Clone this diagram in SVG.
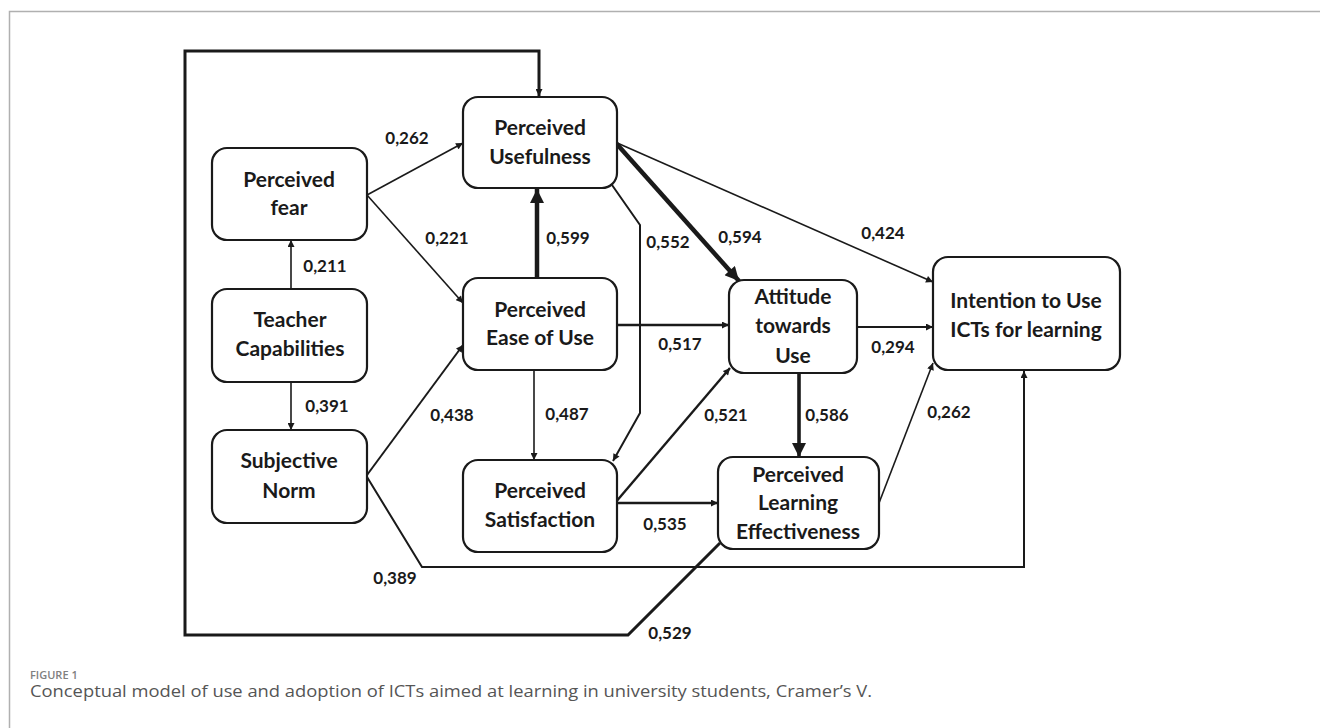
<svg xmlns="http://www.w3.org/2000/svg" width="1320" height="728" viewBox="0 0 1320 728">
<style>
.box{fill:#fff;stroke:#1a1a1a;stroke-width:2.2}
.nt{font-family:Lato,"Open Sans","Liberation Sans",sans-serif;font-size:21px;font-weight:700;fill:#1a1a1a;text-anchor:middle}
.lb{font-family:Lato,"Open Sans","Liberation Sans",sans-serif;font-size:17px;font-weight:700;fill:#1a1a1a;text-anchor:middle}
.e{fill:none;stroke:#1a1a1a;stroke-linejoin:miter}
.t1{stroke-width:1.6;marker-end:url(#a)}
.t2{stroke-width:2.4;marker-end:url(#a)}
.tk{stroke-width:4.5;marker-end:url(#b)}
</style>
<defs>
<marker id="a" viewBox="0 0 10 10" refX="10" refY="5" markerUnits="userSpaceOnUse" markerWidth="8" markerHeight="7" orient="auto"><path d="M0,0 L10,5 L0,10 z" fill="#1a1a1a"/></marker>
<marker id="b" viewBox="0 0 10 10" refX="10" refY="5" markerUnits="userSpaceOnUse" markerWidth="15" markerHeight="14" orient="auto"><path d="M0,0 L10,5 L0,10 z" fill="#1a1a1a"/></marker>
</defs>
<rect width="1320" height="728" fill="#fff"/>
<path d="M9.5,728 L9.5,11.5 L1320,11.5" fill="none" stroke="#b0b0b0" stroke-width="1.5"/>

<g id="connectors">
<path class="e t2" style="stroke-width:3" d="M720,543 L628,635 L185,635 L185,51 L539,51 L539,96"/>
<path class="e t1" d="M367,195 L463,143"/>
<path class="e t1" d="M367,195 L463,303"/>
<path class="e t1" d="M291,289 L291,240"/>
<path class="e t1" d="M291,382 L291,430"/>
<path class="e tk" d="M537,278 L537,189"/>
<path class="e tk" d="M615,142 L739,281"/>
<path class="e t1" d="M615,142 L933,282"/>
<path class="e t2" style="stroke-width:2" d="M612,185 L640,225 L640,413 L613,461"/>
<path class="e t2" d="M617,325 L729,325"/>
<path class="e t2" style="stroke-width:2" d="M857,327 L933,327"/>
<path class="e t2" style="stroke-width:2" d="M367,475 L463,345"/>
<path class="e t1" d="M534,370 L534,460"/>
<path class="e t2" style="stroke-width:2" d="M367,477 L422,567 L1024,567 L1024,371"/>
<path class="e t2" d="M615,503 L730,368"/>
<path class="e t2" d="M615,503 L718,503"/>
<path class="e tk" style="stroke-width:3.6" d="M799,373 L799,457"/>
<path class="e t1" d="M879,503 L933,363"/>
</g>

<g id="labels">
<text class="lb" x="407" y="144">0,262</text>
<text class="lb" x="447" y="244">0,221</text>
<text class="lb" x="568" y="244">0,599</text>
<text class="lb" x="325" y="272">0,211</text>
<text class="lb" x="327" y="412">0,391</text>
<text class="lb" x="452" y="421">0,438</text>
<text class="lb" x="567" y="420">0,487</text>
<text class="lb" x="395" y="584">0,389</text>
<text class="lb" x="668" y="248">0,552</text>
<text class="lb" x="740" y="243">0,594</text>
<text class="lb" x="883" y="239">0,424</text>
<text class="lb" x="680" y="350">0,517</text>
<text class="lb" x="893" y="353">0,294</text>
<text class="lb" x="726" y="421">0,521</text>
<text class="lb" x="827" y="421">0,586</text>
<text class="lb" x="949" y="418">0,262</text>
<text class="lb" x="665" y="530">0,535</text>
<text class="lb" x="670" y="639">0,529</text>
</g>

<g id="pu"><rect class="box" x="463" y="97" width="154" height="91" rx="15"/><text class="nt" x="540" y="135">Perceived</text><text class="nt" x="540" y="164">Usefulness</text></g>
<g id="pf"><rect class="box" x="212" y="148" width="155" height="92" rx="15"/><text class="nt" x="289" y="187">Perceived</text><text class="nt" x="289" y="215">fear</text></g>
<g id="tc"><rect class="box" x="212" y="289" width="155" height="93" rx="15"/><text class="nt" x="290" y="327">Teacher</text><text class="nt" x="290" y="356">Capabilities</text></g>
<g id="peu"><rect class="box" x="463" y="278" width="154" height="92" rx="15"/><text class="nt" x="540" y="317">Perceived</text><text class="nt" x="540" y="345">Ease of Use</text></g>
<g id="sn"><rect class="box" x="212" y="430" width="155" height="93" rx="15"/><text class="nt" x="289" y="468">Subjective</text><text class="nt" x="289" y="498">Norm</text></g>
<g id="ps"><rect class="box" x="463" y="460" width="154" height="92" rx="15"/><text class="nt" x="540" y="498">Perceived</text><text class="nt" x="540" y="527">Satisfaction</text></g>
<g id="atu"><rect class="box" x="729" y="280" width="128" height="93" rx="15"/><text class="nt" x="793" y="304">Attitude</text><text class="nt" x="793" y="333">towards</text><text class="nt" x="793" y="363">Use</text></g>
<g id="itu"><rect class="box" x="933" y="257" width="187" height="113" rx="15"/><text class="nt" x="1026" y="308">Intention to Use</text><text class="nt" x="1026" y="337">ICTs for learning</text></g>
<g id="ple"><rect class="box" x="718" y="457" width="161" height="92" rx="15"/><text class="nt" x="798" y="482">Perceived</text><text class="nt" x="798" y="510">Learning</text><text class="nt" x="798" y="539">Effectiveness</text></g>

<text x="30" y="679" font-family="'Open Sans','Liberation Sans',sans-serif" font-size="11" font-weight="600" fill="#808080">FIGURE 1</text>
<text x="30" y="697" font-family="'Open Sans','Liberation Sans',sans-serif" font-size="15.5" fill="#555" textLength="842" lengthAdjust="spacingAndGlyphs">Conceptual model of use and adoption of ICTs aimed at learning in university students, Cramer’s V.</text>
</svg>
